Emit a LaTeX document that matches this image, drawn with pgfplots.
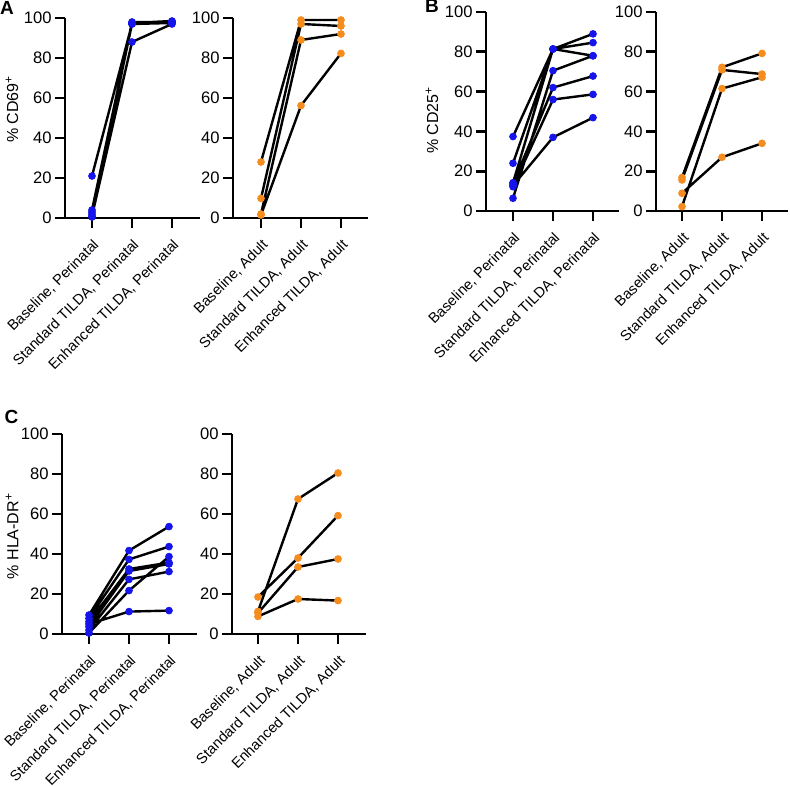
\documentclass[border=0pt]{standalone}
\usepackage{pgfplots}
\pgfplotsset{compat=1.18}
\usepackage{pgfplotstable}
\usepackage{fontspec}
\setmainfont{Liberation Sans}
\definecolor{pblue}{RGB}{20,20,235}
\definecolor{porange}{RGB}{245,140,30}

\pgfplotstableread{
x y
0 21
1 97
2 98
nan nan
0 4
1 97.5
2 98.5
nan nan
0 3
1 98
2 98
nan nan
0 2
1 97
2 97.5
nan nan
0 1
1 88
2 97
nan nan
0 0.5
1 97.5
2 98.2
}\tAL

\pgfplotstableread{
x y
0 28
1 99
2 99
nan nan
0 9.8
1 97
2 96
nan nan
0 2
1 89
2 92
nan nan
0 1.5
1 56.2
2 82.3
}\tAR

\pgfplotstableread{
x y
0 37.4
1 81.4
2 89
nan nan
0 24
1 81.4
2 84.6
nan nan
0 14.2
1 81.4
2 78
nan nan
0 6.4
1 70.5
2 78
nan nan
0 13.6
1 62
2 67.8
nan nan
0 12.2
1 56
2 58.6
nan nan
0 12.8
1 37
2 46.9
}\tBL

\pgfplotstableread{
x y
0 16.8
1 72.2
2 79.2
nan nan
0 15.6
1 70.9
2 68.8
nan nan
0 2.2
1 61.5
2 67.2
nan nan
0 8.9
1 27
2 34
}\tBR

\pgfplotstableread{
x y
0 9.5
1 41.7
2 53.7
nan nan
0 7.8
1 37.3
2 43.7
nan nan
0 6.2
1 32.5
2 35.7
nan nan
0 3.7
1 31.5
2 35
nan nan
0 2
1 27.3
2 31.2
nan nan
0 0.5
1 21.7
2 38.7
nan nan
0 5
1 11.2
2 11.7
}\tCL

\pgfplotstableread{
x y
0 18.5
1 38
2 59.2
nan nan
0 11.3
1 67.5
2 80.5
nan nan
0 10.5
1 33.5
2 37.5
nan nan
0 8.8
1 17.5
2 16.7
}\tCR

\pgfplotsset{
  panel/.style={
    scale only axis, height=100pt,
    axis lines=left, axis line style={-, line width=1.4pt, black},
    ymin=0, ymax=100, ytick={0,20,40,60,80,100},
    xtick={0,1,2},
    tick style={line width=1.4pt, black}, tick align=outside,
    major tick length=5pt,
    /pgf/number format/assume math mode=true,
    y tick label style={inner sep=1.5pt, font=\fontsize{8.3}{9}\selectfont},
    x tick label style={rotate=45, anchor=north east, inner sep=1pt, font=\fontsize{7.3}{9}\selectfont},
    xticklabel shift=3.5pt,
    ylabel style={font=\fontsize{8}{9}\selectfont, anchor=center},
    clip=false,
    unbounded coords=jump,
  },
  dlines/.style={black, line width=1.2pt, no markers},
  dmarks/.style={only marks, mark=*, mark size=1.7pt, color=#1},
}

\begin{document}
\begin{tikzpicture}
\useasboundingbox (0,0) rectangle (395pt,392.5pt);

% Panel A left
\begin{axis}[panel, at={(32.5pt,283.5pt)}, anchor=south west,
  xmin=-0.675, xmax=2.7, width=67.5pt,
  xticklabels={{Baseline, Perinatal}, {Standard TILDA, Perinatal}, {Enhanced TILDA, Perinatal}},
  ylabel={\% CD69\textsuperscript{+}},
  ylabel style={at={(axis description cs:-0.393,0.545)}}]
\addplot[dlines] table[x=x,y=y] {\tAL};
\addplot[dmarks=pblue] table[x=x,y=y] {\tAL};
\end{axis}

% Panel A right
\begin{axis}[panel, at={(116.5pt,283.5pt)}, anchor=south west,
  xmin=-0.7, xmax=2.675, width=67.5pt,
  xticklabels={{Baseline, Adult}, {Standard TILDA, Adult}, {Enhanced TILDA, Adult}}]
\addplot[dlines] table[x=x,y=y] {\tAR};
\addplot[dmarks=porange] table[x=x,y=y] {\tAR};
\end{axis}

% Panel B left
\begin{axis}[panel, at={(243pt,287pt)}, anchor=south west,
  xmin=-0.675, xmax=2.65, width=66.5pt, height=99.5pt,
  xticklabels={{Baseline, Perinatal}, {Standard TILDA, Perinatal}, {Enhanced TILDA, Perinatal}},
  ylabel={\% CD25\textsuperscript{+}},
  ylabel style={at={(axis description cs:-0.406,0.457)}}]
\addplot[dlines] table[x=x,y=y] {\tBL};
\addplot[dmarks=pblue] table[x=x,y=y] {\tBL};
\end{axis}

% Panel B right
\begin{axis}[panel, at={(328pt,287pt)}, anchor=south west,
  xmin=-0.65, xmax=2.65, width=66pt, height=99.5pt,
  xticklabels={{Baseline, Adult}, {Standard TILDA, Adult}, {Enhanced TILDA, Adult}}]
\addplot[dlines] table[x=x,y=y] {\tBR};
\addplot[dmarks=porange] table[x=x,y=y] {\tBR};
\end{axis}

% Panel C left
\begin{axis}[panel, at={(31pt,75.5pt)}, anchor=south west,
  xmin=-0.675, xmax=2.7, width=67.5pt,
  xticklabels={{Baseline, Perinatal}, {Standard TILDA, Perinatal}, {Enhanced TILDA, Perinatal}},
  ylabel={\% HLA-DR\textsuperscript{+}},
  ylabel style={at={(axis description cs:-0.37,0.49)}}]
\addplot[dlines] table[x=x,y=y] {\tCL};
\addplot[dmarks=pblue] table[x=x,y=y] {\tCL};
\end{axis}

% Panel C right
\begin{axis}[panel, at={(116pt,75.5pt)}, anchor=south west,
  xmin=-0.65, xmax=2.7, width=67pt,
  yticklabels={0,20,40,60,80,00},
  xticklabels={{Baseline, Adult}, {Standard TILDA, Adult}, {Enhanced TILDA, Adult}}]
\addplot[dlines] table[x=x,y=y] {\tCR};
\addplot[dmarks=porange] table[x=x,y=y] {\tCR};
\end{axis}

\node[font=\fontsize{9.5}{10}\selectfont\bfseries] at (3.5pt,388.5pt) {A};
\node[font=\fontsize{9.5}{10}\selectfont\bfseries] at (216pt,389.5pt) {B};
\node[font=\fontsize{9.5}{10}\selectfont\bfseries] at (5.75pt,184pt) {C};
\end{tikzpicture}
\end{document}
